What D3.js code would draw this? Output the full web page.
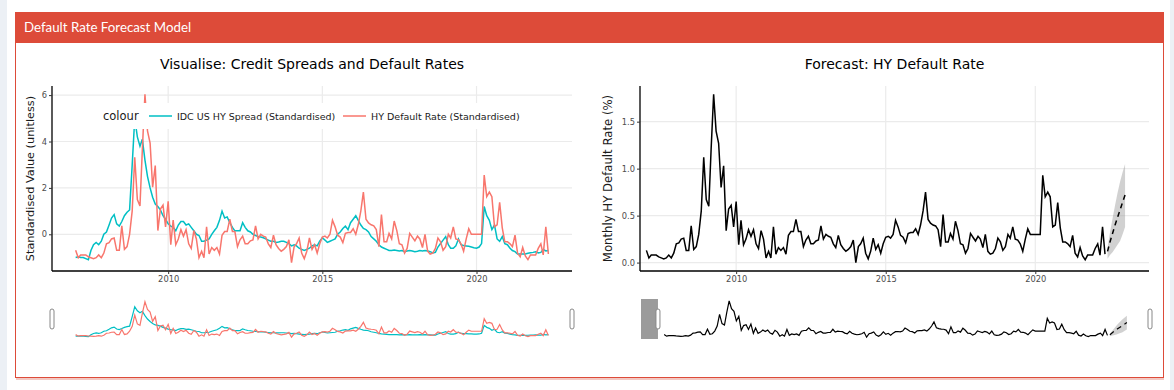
<!DOCTYPE html>
<html><head><meta charset="utf-8">
<script src="https://cdn.jsdelivr.net/npm/d3@7"></script>
<style>
body{margin:0;background:#fff;}
svg text{font-family:"DejaVu Sans",Verdana,sans-serif;}
</style></head>
<body>
<svg id="chart" width="1174" height="390"></svg>
<script>
// ---------------- DATA ----------------
const seriesStart = new Date(2007, 0, 1);
// IDC US HY Spread (Standardised), monthly Jan 2007 - May 2022
const hySpreadZ = [
 -1.00,-0.97,-1.00,-1.00,-1.05,-1.10,-0.70,-0.45,-0.35,-0.45,-0.30,0.00,
 0.10,0.40,0.70,0.85,0.45,0.35,0.55,0.80,0.95,1.05,3.00,5.00,
 4.20,3.80,4.10,3.20,2.50,2.00,1.60,1.30,1.20,1.05,0.80,0.65,
 0.45,0.35,0.30,0.15,0.40,0.55,0.55,0.40,0.45,0.30,0.15,0.00,
 -0.05,-0.30,-0.30,-0.25,-0.20,0.00,0.15,0.30,0.60,1.00,0.70,0.75,
 0.50,0.30,0.15,0.15,0.15,0.50,0.30,0.15,0.10,0.00,-0.05,-0.10,
 -0.12,-0.15,-0.20,-0.25,-0.30,-0.30,-0.35,-0.33,-0.30,-0.30,-0.35,-0.40,
 -0.50,-0.45,-0.50,-0.60,-0.65,-0.70,-0.65,-0.60,-0.50,-0.45,-0.50,-0.30,
 -0.15,-0.25,-0.35,-0.30,-0.25,-0.20,0.00,0.10,0.25,0.35,0.20,0.50,
 0.65,0.80,0.60,0.40,0.25,0.20,0.10,-0.10,-0.20,-0.30,-0.45,-0.55,
 -0.60,-0.65,-0.70,-0.70,-0.68,-0.70,-0.72,-0.70,-0.75,-0.72,-0.70,-0.72,
 -0.75,-0.73,-0.70,-0.72,-0.70,-0.72,-0.75,-0.80,-0.78,-0.55,-0.40,-0.25,
 -0.10,-0.45,-0.60,-0.60,-0.50,-0.20,-0.45,-0.48,-0.50,-0.52,-0.55,-0.58,
 -0.60,-0.55,-0.40,1.20,0.80,0.60,0.20,0.40,-0.20,-0.30,-0.10,-0.40,
 -0.45,-0.60,-0.70,-0.75,-0.85,-0.85,-0.85,-0.85,-0.82,-0.80,-0.78,-0.75,
 -0.80,-0.78,-0.65,-0.72,-0.70
];
// HY Default Rate (Standardised)
const defaultRateZ = [
 -0.69,-1.01,-0.89,-0.89,-0.89,-0.97,-1.01,-1.05,-1.01,-0.89,-1.01,-0.81,
 -0.41,-0.36,-0.20,-0.16,-0.69,-0.69,0.36,-0.65,-0.53,0.00,1.01,3.32,
 1.50,1.22,3.65,6.03,4.46,3.93,2.03,2.96,0.16,1.09,1.26,0.32,
 1.42,-0.45,0.61,-0.45,-0.20,0.20,-0.08,0.20,-0.41,-0.61,0.16,-0.20,
 -1.01,-0.73,-1.01,0.32,-0.85,-0.57,-0.69,-0.57,-0.85,-0.04,0.12,0.12,
 0.65,0.12,0.12,-0.53,-0.24,-0.08,-0.41,-0.41,-0.28,-0.24,0.36,-0.20,
 0.00,-0.08,-0.12,-0.41,-0.57,-0.04,-0.45,-0.61,-0.73,-0.65,-0.53,-0.24,
 -1.22,-0.53,-0.41,-0.16,-0.81,-1.05,-0.73,-0.16,-0.65,-0.45,-0.81,-0.41,
 -0.12,-0.08,-0.16,0.00,0.61,0.32,-0.04,-0.12,-0.36,0.04,0.08,0.08,
 0.24,0.00,0.41,1.01,1.82,0.65,0.49,0.41,0.36,0.20,-0.53,0.85,
 -0.32,-0.32,0.04,-0.20,0.57,0.16,-0.41,-0.45,-0.81,-0.61,0.04,-0.12,
 -0.28,-0.08,-0.20,-0.57,0.00,-0.73,-0.85,-0.81,-0.61,-0.16,-0.32,-0.69,
 -0.53,0.00,-0.16,0.32,-0.20,-0.24,-0.41,-0.73,-0.20,0.24,0.00,0.00,
 0.00,0.00,0.00,2.55,1.62,1.82,1.62,0.32,0.41,1.38,0.28,-0.32,
 -0.32,-0.41,-0.53,-0.04,-0.81,-0.97,-0.57,-0.93,-1.09,-0.89,-0.89,-0.89,
 -0.61,-0.41,-0.89,0.32,-0.85
];
// Monthly HY Default Rate (%)
const defaultRate = [
 0.13,0.05,0.08,0.08,0.08,0.06,0.05,0.04,0.05,0.08,0.05,0.10,
 0.20,0.21,0.25,0.26,0.13,0.13,0.39,0.14,0.17,0.30,0.55,1.12,
 0.67,0.60,1.20,1.79,1.40,1.27,0.80,1.03,0.34,0.57,0.61,0.38,
 0.65,0.19,0.45,0.19,0.25,0.35,0.28,0.35,0.20,0.15,0.34,0.25,
 0.05,0.12,0.05,0.38,0.09,0.16,0.13,0.16,0.09,0.29,0.33,0.33,
 0.46,0.33,0.33,0.17,0.24,0.28,0.20,0.20,0.23,0.24,0.39,0.25,
 0.30,0.28,0.27,0.20,0.16,0.29,0.19,0.15,0.12,0.14,0.17,0.24,
 0.00,0.17,0.20,0.26,0.10,0.04,0.12,0.26,0.14,0.19,0.10,0.20,
 0.27,0.28,0.26,0.30,0.45,0.38,0.29,0.27,0.21,0.31,0.32,0.32,
 0.36,0.30,0.40,0.55,0.75,0.46,0.42,0.40,0.39,0.35,0.17,0.51,
 0.22,0.22,0.31,0.25,0.44,0.34,0.20,0.19,0.10,0.15,0.31,0.27,
 0.23,0.28,0.25,0.16,0.30,0.12,0.09,0.10,0.15,0.26,0.22,0.13,
 0.17,0.30,0.26,0.38,0.25,0.24,0.20,0.12,0.25,0.36,0.30,0.30,
 0.30,0.30,0.30,0.93,0.70,0.75,0.70,0.38,0.40,0.64,0.37,0.22,
 0.22,0.20,0.17,0.29,0.10,0.06,0.16,0.07,0.03,0.08,0.08,0.08,
 0.15,0.20,0.08,0.38,0.09
];
// Forecast Jun 2022 - Jan 2023
const forecastStart = new Date(2022, 5, 1);
const forecastMean  = [0.12,0.22,0.31,0.40,0.48,0.56,0.64,0.72];
const forecastLower = [0.04,0.08,0.11,0.15,0.19,0.23,0.30,0.38];
const forecastUpper = [0.16,0.32,0.47,0.61,0.74,0.86,0.96,1.05];
// visible start of the forecast panel (range-slider selection)
const forecastViewStart = new Date(2006, 9, 15);

const xTickYears = [2010, 2015, 2020];
const leftYTicks = [0, 2, 4, 6];
const rightYTicks = [0, 0.5, 1.0, 1.5];
const legendItems = [
  {label: "IDC US HY Spread (Standardised)", color: "#00BFC4"},
  {label: "HY Default Rate (Standardised)", color: "#F8766D"}
];

// ---------------- BUILD ----------------
const months = hySpreadZ.map((_, i) => d3.timeMonth.offset(seriesStart, i));
const fMonths = forecastMean.map((_, i) => d3.timeMonth.offset(forecastStart, i));
const expand = (ext, f = 0.05) => {
  const a = +ext[0], b = +ext[1], r = b - a;
  return [a - r * f, b + r * f];
};
const svg = d3.select("#chart");
const W = 1174, H = 390;

// page / box
svg.append("rect").attr("width", W).attr("height", H).attr("fill", "#fff");
svg.append("rect").attr("x", 0).attr("width", 7).attr("height", H).attr("fill", "#ecf0f5");
svg.append("rect").attr("x", 1170).attr("width", 4).attr("height", H).attr("fill", "#ecf0f5");
svg.append("rect").attr("x", 16).attr("y", 378).attr("width", 1148).attr("height", 2).attr("fill", "#f3c9c3");
svg.append("rect").attr("x", 15.5).attr("y", 12.5).attr("width", 1148).attr("height", 365)
  .attr("fill", "#fff").attr("stroke", "#dd4b39").attr("stroke-width", 1);
svg.append("rect").attr("x", 15).attr("y", 12).attr("width", 1149).attr("height", 31).attr("fill", "#dd4b39");
svg.append("text").attr("x", 24).attr("y", 32).text("Default Rate Forecast Model")
  .attr("fill", "#fff").style("font-family", "Lato, 'Open Sans', sans-serif").style("font-size", "13.3px");

function drawPanel(cfg) {
  const {x, y, title, yTitle, yTicks, yFmt, clipId} = cfg;
  const [x0, x1] = x.range(), [y1, y0] = y.range();
  const g = svg.append("g");
  // grid
  g.selectAll(".gh").data(yTicks).join("line")
    .attr("x1", x0).attr("x2", x1).attr("y1", d => y(d)).attr("y2", d => y(d))
    .attr("stroke", "#ebebeb").attr("stroke-width", 1.2);
  g.selectAll(".gv").data(xTickYears).join("line")
    .attr("x1", d => x(new Date(d, 0, 1))).attr("x2", d => x(new Date(d, 0, 1)))
    .attr("y1", y0).attr("y2", y1).attr("stroke", "#ebebeb").attr("stroke-width", 1.2);
  svg.append("clipPath").attr("id", clipId).append("rect")
    .attr("x", x0).attr("y", y0).attr("width", x1 - x0).attr("height", y1 - y0);
  const plot = svg.append("g").attr("clip-path", `url(#${clipId})`);
  cfg.draw(plot);
  if (cfg.overlay) cfg.overlay();
  // axes
  const xa = svg.append("g").attr("transform", `translate(0,${y1})`)
    .call(d3.axisBottom(x).tickValues(xTickYears.map(v => new Date(v, 0, 1)))
      .tickFormat(d3.timeFormat("%Y")).tickSize(3).tickPadding(2).tickSizeOuter(0));
  const ya = svg.append("g").attr("transform", `translate(${x0},0)`)
    .call(d3.axisLeft(y).tickValues(yTicks).tickFormat(yFmt).tickSize(3).tickPadding(2).tickSizeOuter(0));
  [xa, ya].forEach(a => {
    a.select(".domain").attr("stroke", "#000").attr("stroke-width", 1.3);
    a.selectAll(".tick line").attr("stroke", "#333").attr("stroke-width", 1);
    a.selectAll(".tick text").attr("fill", "#4d4d4d").style("font-size", "8.3px");
  });
  ya.select(".domain").attr("d", `M0,${y1}V${y0}`);
  xa.select(".domain").attr("d", `M${x0},0H${x1}`);
  svg.append("text").attr("x", (x0 + x1) / 2).attr("y", 69).attr("text-anchor", "middle")
    .style("font-size", "14px").attr("fill", "#000").text(title);
  svg.append("text").attr("transform", `translate(${cfg.yTitleX},${(y0 + y1) / 2}) rotate(-90)`)
    .attr("text-anchor", "middle").style("font-size", cfg.yTitleSize).attr("fill", "#1a1a1a").text(yTitle);
}

function handle(xc, yc) {
  svg.append("rect").attr("x", xc - 2).attr("y", yc - 10).attr("width", 4).attr("height", 20)
    .attr("rx", 2).attr("fill", "#fff").attr("stroke", "#888").attr("stroke-width", 1);
}

// ---------- LEFT PANEL ----------
const allZ = hySpreadZ.concat(defaultRateZ);
const xL = d3.scaleTime().domain(expand(d3.extent(months))).range([52, 572]);
const yL = d3.scaleLinear().domain(expand(d3.extent(allZ))).range([271, 86]);
const lineGen = (xs, ys, arr) => d3.line().x((d, i) => xs(months[i])).y(d => ys(d))(arr);

drawPanel({
  x: xL, y: yL, title: "Visualise: Credit Spreads and Default Rates",
  yTitle: "Standardised Value (unitless)", yTicks: leftYTicks, yFmt: d3.format("d"),
  clipId: "clipL", yTitleX: 34, yTitleSize: "11.3px",
  draw: p => {
    p.append("path").attr("d", lineGen(xL, yL, hySpreadZ)).attr("fill", "none")
      .attr("stroke", legendItems[0].color).attr("stroke-width", 1.5);
    p.append("path").attr("d", lineGen(xL, yL, defaultRateZ)).attr("fill", "none")
      .attr("stroke", legendItems[1].color).attr("stroke-width", 1.5);
  },
  overlay: () => {
    const lg = svg.append("g");
    lg.append("rect").attr("x", 100).attr("y", 103).attr("width", 422).attr("height", 26).attr("fill", "#fff");
    lg.append("text").attr("x", 103).attr("y", 120).style("font-size", "11.5px").attr("fill", "#1a1a1a").text("colour");
    const pos = [{l: 149, t: 177}, {l: 343, t: 371}];
    legendItems.forEach((it, i) => {
      lg.append("line").attr("x1", pos[i].l).attr("x2", pos[i].l + 23).attr("y1", 116).attr("y2", 116)
        .attr("stroke", it.color).attr("stroke-width", 1.5);
      lg.append("text").attr("x", pos[i].t).attr("y", 119.5).style("font-size", "9.5px").attr("fill", "#1a1a1a").text(it.label);
    });
  }
});

// left range slider
const ysL = d3.scaleLinear().domain(yL.domain()).range([339, 300]);
[hySpreadZ, defaultRateZ].forEach((arr, k) => {
  svg.append("path").attr("d", lineGen(xL, ysL, arr)).attr("fill", "none")
    .attr("stroke", legendItems[k].color).attr("stroke-width", 1.2);
});
handle(52, 319); handle(572, 319);

// ---------- RIGHT PANEL ----------
const fullExt = expand([seriesStart, fMonths[fMonths.length - 1]]);
const xR = d3.scaleTime().domain([forecastViewStart, fullExt[1]]).range([640, 1149]);
const yR = d3.scaleLinear().domain(expand([0, d3.max(defaultRate)])).range([271, 86]);

function drawForecast(p, xs, ys, lw) {
  const area = d3.area().x((d, i) => xs(fMonths[i])).y0((d, i) => ys(forecastLower[i])).y1(d => ys(d));
  p.append("path").attr("d", area(forecastUpper)).attr("fill", "#999").attr("fill-opacity", 0.45);
  p.append("path").attr("d", d3.line().x((d, i) => xs(months[i])).y(d => ys(d))(defaultRate))
    .attr("fill", "none").attr("stroke", "#000").attr("stroke-width", lw);
  p.append("path").attr("d", d3.line().x((d, i) => xs(fMonths[i])).y(d => ys(d))(forecastMean))
    .attr("fill", "none").attr("stroke", "#000").attr("stroke-width", lw).attr("stroke-dasharray", "5,4");
}

drawPanel({
  x: xR, y: yR, title: "Forecast: HY Default Rate",
  yTitle: "Monthly HY Default Rate (%)", yTicks: rightYTicks, yFmt: d3.format(".1f"),
  clipId: "clipR", yTitleX: 612, yTitleSize: "11.7px",
  draw: p => drawForecast(p, xR, yR, 1.5)
});

// right range slider
const xsR = d3.scaleTime().domain(fullExt).range([641, 1150]);
const ysR = d3.scaleLinear().domain(yR.domain()).range([339, 299]);
drawForecast(svg.append("g"), xsR, ysR, 1.2);
svg.append("rect").attr("x", 641).attr("y", 299).attr("width", xsR(forecastViewStart) - 641).attr("height", 40)
  .attr("fill", "#9b9b9b");
handle(xsR(forecastViewStart), 319); handle(1150, 319);
</script>
</body></html>
